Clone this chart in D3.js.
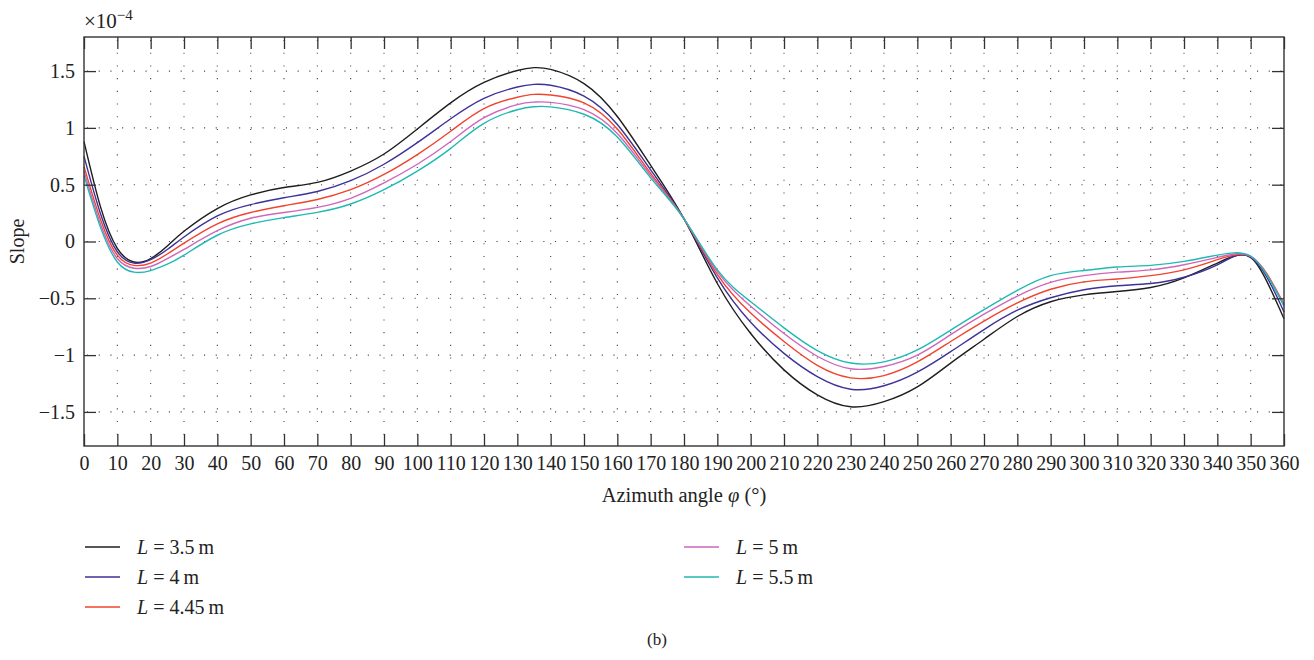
<!DOCTYPE html>
<html>
<head>
<meta charset="utf-8">
<script src="https://d3js.org/d3.v7.min.js"></script>
<style>
  body { margin: 0; background: #fff; }
  text { font-family: "Liberation Serif", "DejaVu Serif", serif; fill: #222; }
</style>
</head>
<body>
<script>
// slope vs azimuth angle, five stand lengths

var angles = [0, 5, 10, 15, 20, 25, 30, 40, 50, 60, 70, 80, 90, 100, 110, 120, 130, 135, 140, 150, 160, 170, 180,
  190, 200, 210, 220, 230, 240, 250, 260, 270, 280, 290, 300, 310, 320, 330, 340, 345, 350, 355, 360];

var slopeL35 = [0.88, 0.30, -0.06, -0.18, -0.15, -0.04, 0.09, 0.29, 0.41, 0.475, 0.52, 0.62, 0.77, 0.99, 1.22, 1.40, 1.505, 1.53, 1.515, 1.39, 1.10, 0.67, 0.20,
  -0.37, -0.81, -1.13, -1.35, -1.455, -1.41, -1.28, -1.07, -0.86, -0.66, -0.53, -0.47, -0.44, -0.405, -0.32, -0.19, -0.13, -0.14, -0.36, -0.68];
var slopeL4 = [0.75, 0.24, -0.09, -0.19, -0.16, -0.07, 0.04, 0.225, 0.325, 0.385, 0.44, 0.535, 0.68, 0.87, 1.08, 1.26, 1.36, 1.383, 1.375, 1.28, 1.03, 0.63, 0.20,
  -0.32, -0.71, -0.985, -1.19, -1.30, -1.27, -1.15, -0.97, -0.775, -0.605, -0.495, -0.425, -0.39, -0.37, -0.315, -0.205, -0.13, -0.14, -0.32, -0.62];
var slopeL445 = [0.66, 0.19, -0.12, -0.21, -0.19, -0.11, -0.015, 0.155, 0.255, 0.315, 0.37, 0.456, 0.59, 0.765, 0.97, 1.17, 1.27, 1.295, 1.29, 1.22, 0.99, 0.60, 0.20,
  -0.29, -0.63, -0.88, -1.09, -1.20, -1.18, -1.06, -0.88, -0.70, -0.54, -0.42, -0.355, -0.33, -0.30, -0.25, -0.16, -0.12, -0.13, -0.29, -0.55];
var slopeL5 = [0.62, 0.15, -0.15, -0.235, -0.22, -0.15, -0.07, 0.095, 0.205, 0.255, 0.30, 0.38, 0.515, 0.68, 0.88, 1.09, 1.205, 1.227, 1.225, 1.16, 0.95, 0.58, 0.20,
  -0.265, -0.57, -0.81, -1.01, -1.12, -1.10, -1.00, -0.82, -0.64, -0.48, -0.36, -0.30, -0.27, -0.25, -0.205, -0.14, -0.11, -0.13, -0.30, -0.56];
var slopeL55 = [0.58, 0.12, -0.18, -0.27, -0.256, -0.20, -0.12, 0.055, 0.155, 0.21, 0.256, 0.33, 0.456, 0.62, 0.82, 1.04, 1.16, 1.186, 1.185, 1.12, 0.92, 0.56, 0.20,
  -0.25, -0.53, -0.76, -0.96, -1.07, -1.06, -0.955, -0.78, -0.60, -0.43, -0.30, -0.255, -0.225, -0.21, -0.175, -0.12, -0.10, -0.13, -0.30, -0.57];

var seriesNames = ["3.5", "4", "4.45", "5", "5.5"];
var seriesValues = [slopeL35, slopeL4, slopeL445, slopeL5, slopeL55];
var colors = ["#1e1e1e", "#3c3299", "#f2432d", "#d066b8", "#1fb9b3"];

var xTicks = d3.range(0, 361, 10);
var yTicks = [-1.5, -1, -0.5, 0, 0.5, 1, 1.5];

var width = 1314;
var height = 660;
var plotL = 84, plotR = 1284, plotT = 37, plotB = 446;

var svg = d3.select("body").append("svg")
    .attr("width", width)
    .attr("height", height);

var x = d3.scaleLinear().domain([0, 360]).range([plotL, plotR]);
var y = d3.scaleLinear().domain([-1.8, 1.8]).range([plotB, plotT]);

// dotted grid
svg.append("g").selectAll("line")
    .data(xTicks.slice(1, -1))
  .enter().append("line")
    .attr("x1", function(d){ return x(d); })
    .attr("x2", function(d){ return x(d); })
    .attr("y1", plotT + 3)
    .attr("y2", plotB)
    .attr("stroke", "#444")
    .attr("stroke-width", 1.1)
    .attr("stroke-dasharray", "1.1,11.6");
svg.append("g").selectAll("line")
    .data(yTicks)
  .enter().append("line")
    .attr("x1", plotL + 3)
    .attr("x2", plotR)
    .attr("y1", function(d){ return y(d); })
    .attr("y2", function(d){ return y(d); })
    .attr("stroke", "#444")
    .attr("stroke-width", 1.1)
    .attr("stroke-dasharray", "1.1,10.6");

// curves
var line = d3.line()
    .x(function(d){ return x(d[0]); })
    .y(function(d){ return y(d[1]); })
    .curve(d3.curveNatural);

svg.append("g").selectAll("path")
    .data(seriesValues)
  .enter().append("path")
    .attr("fill", "none")
    .attr("stroke", function(d, i){ return colors[i]; })
    .attr("stroke-width", 1.4)
    .attr("d", function(vals){
      return line(angles.map(function(a, j){ return [a, vals[j]]; }));
    });

// axes (ticks pointing inward on all four sides)
svg.append("g")
    .attr("transform", "translate(0," + plotB + ")")
    .call(d3.axisBottom(x).tickValues(xTicks).tickSizeInner(-12).tickSizeOuter(0).tickPadding(10))
    .call(function(g){ g.selectAll("text").attr("font-size", 20).attr("fill", "#222"); });
svg.append("g")
    .attr("transform", "translate(0," + plotT + ")")
    .call(d3.axisTop(x).tickValues(xTicks).tickSizeInner(-12).tickSizeOuter(0).tickFormat(""));
svg.append("g")
    .attr("transform", "translate(" + plotL + ",0)")
    .call(d3.axisLeft(y).tickValues(yTicks).tickSizeInner(-12).tickSizeOuter(0).tickPadding(9)
      .tickFormat(function(d){ return d3.format("")(d).replace("-", "\u2212"); }))
    .call(function(g){ g.selectAll("text").attr("font-size", 20).attr("fill", "#222"); });
svg.append("g")
    .attr("transform", "translate(" + plotR + ",0)")
    .call(d3.axisRight(y).tickValues(yTicks).tickSizeInner(-12).tickSizeOuter(0).tickFormat(""));

svg.selectAll(".domain").remove();
svg.selectAll(".tick line").attr("stroke", "#333").attr("stroke-width", 1.3);
svg.selectAll(".tick text").attr("font-family", "Liberation Serif, serif");

svg.append("rect")
    .attr("x", plotL)
    .attr("y", plotT)
    .attr("width", plotR - plotL)
    .attr("height", plotB - plotT)
    .attr("fill", "none")
    .attr("stroke", "#333")
    .attr("stroke-width", 1.4);

// labels
var scaleText = svg.append("text")
    .attr("x", plotL)
    .attr("y", 28)
    .attr("font-size", 21);
scaleText.append("tspan").text("\u00d710");
scaleText.append("tspan").attr("dy", -8).attr("font-size", 15).text("\u22124");

svg.append("text")
    .attr("transform", "translate(24," + y(0) + ") rotate(-90)")
    .attr("text-anchor", "middle")
    .attr("font-size", 20)
    .text("Slope");

var xLabel = svg.append("text")
    .attr("x", (plotL + plotR) / 2)
    .attr("y", 502)
    .attr("text-anchor", "middle")
    .attr("font-size", 20.5);
xLabel.append("tspan").text("Azimuth angle ");
xLabel.append("tspan").attr("font-style", "italic").text("\u03c6");
xLabel.append("tspan").text(" (\u00b0)");

// legend
var legendPos = [[85, 547], [85, 577], [85, 607], [684, 547], [684, 577]];
var legend = svg.append("g").selectAll("g")
    .data(seriesNames)
  .enter().append("g")
    .attr("transform", function(d, i){ return "translate(" + legendPos[i][0] + "," + legendPos[i][1] + ")"; });
legend.append("line")
    .attr("x1", 0)
    .attr("x2", 35)
    .attr("stroke", function(d, i){ return colors[i]; })
    .attr("stroke-width", 1.6);
var lt = legend.append("text")
    .attr("x", 52)
    .attr("y", 6.5)
    .attr("font-size", 20);
lt.append("tspan").attr("font-style", "italic").text("L");
lt.append("tspan").text(function(d){ return " = " + d + "\u2009m"; });

svg.append("text")
    .attr("x", 657)
    .attr("y", 645)
    .attr("text-anchor", "middle")
    .attr("font-size", 17)
    .text("(b)");
</script>
</body>
</html>
